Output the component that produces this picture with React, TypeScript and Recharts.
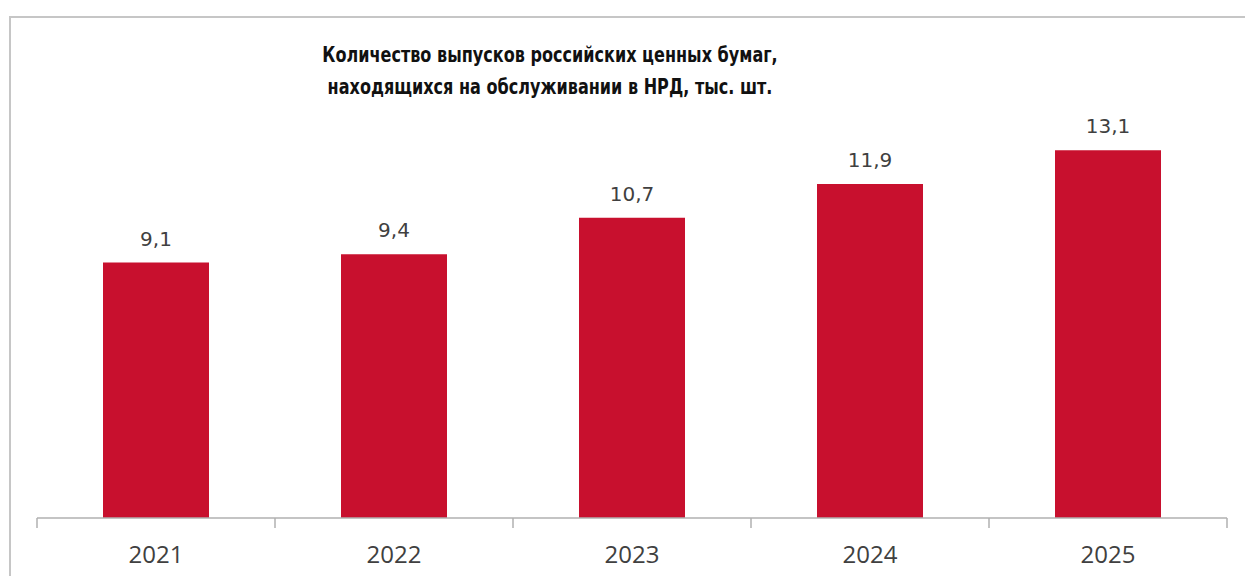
import React from "react";
import { BarChart, Bar, XAxis, YAxis, LabelList } from "recharts";

const years = ["2021", "2022", "2023", "2024", "2025"];
const issues = [9.1, 9.4, 10.7, 11.9, 13.1];
const valueLabels = ["9,1", "9,4", "10,7", "11,9", "13,1"];
const titleLines = [
  "Количество выпусков российских ценных бумаг,",
  "находящихся на обслуживании в НРД, тыс. шт.",
];

const data = years.map((y, i) => ({ year: y, value: issues[i], label: valueLabels[i] }));

const W = 1245;
const H = 576;
const margin = { top: 125, right: 18, bottom: 0, left: 37 };
const axisH = 58;
const band = (W - margin.left - margin.right) / years.length;

const AxisTick = (props: any) => {
  const { x, y, payload, index } = props;
  const left = x - band / 2;
  const right = x + band / 2;
  return (
    <g>
      <line x1={left} x2={left} y1={y} y2={y + 10} stroke="#b0b0b0" strokeWidth={1.5} />
      {index === years.length - 1 && (
        <line x1={right} x2={right} y1={y} y2={y + 10} stroke="#b0b0b0" strokeWidth={1.5} />
      )}
      <text
        x={x}
        y={y + 45}
        textAnchor="middle"
        fontFamily="'Open Sans', sans-serif"
        fontSize={24}
        fill="#404040"
      >
        {payload.value}
      </text>
    </g>
  );
};

const ValueLabel = (props: any) => {
  const { x, y, width, index } = props;
  return (
    <text
      x={x + width / 2}
      y={y - 17}
      textAnchor="middle"
      fontFamily="'DejaVu Sans', sans-serif"
      fontSize={20}
      fill="#404040"
    >
      {valueLabels[index]}
    </text>
  );
};

export default function App() {
  return (
    <div
      style={{
        position: "absolute",
        left: 0,
        top: 0,
        width: W,
        height: H,
        overflow: "hidden",
        background: "#ffffff",
      }}
    >
      <div
        style={{
          position: "absolute",
          left: 9,
          top: 16,
          width: 1236,
          height: 560,
          borderTop: "2px solid #c6c6c6",
          borderLeft: "2px solid #c6c6c6",
          boxSizing: "border-box",
        }}
      />
      {titleLines.map((t, i) => (
        <div
          key={i}
          style={{
            position: "absolute",
            left: 150,
            width: 800,
            top: i === 0 ? 41 : 73,
            textAlign: "center",
            fontFamily: "'DejaVu Sans Condensed', 'DejaVu Sans', sans-serif",
            fontWeight: 700,
            fontSize: 21,
            lineHeight: "28px",
            color: "#111111",
            whiteSpace: "nowrap",
            transform: "scaleX(0.85)",
            transformOrigin: "center",
          }}
        >
          {t}
        </div>
      ))}
      <div style={{ position: "absolute", left: 0, top: 0 }}>
        <BarChart width={W} height={H} data={data} margin={margin}>
          <YAxis hide domain={[0, 14]} />
          <XAxis
            dataKey="year"
            height={axisH}
            axisLine={{ stroke: "#b0b0b0", strokeWidth: 1.5 }}
            tickLine={false}
            tickSize={0}
            tickMargin={0}
            tick={<AxisTick />}
            interval={0}
          />
          <Bar dataKey="value" fill="#C8102E" barSize={106} isAnimationActive={false}>
            <LabelList dataKey="value" content={<ValueLabel />} />
          </Bar>
        </BarChart>
      </div>
    </div>
  );
}
